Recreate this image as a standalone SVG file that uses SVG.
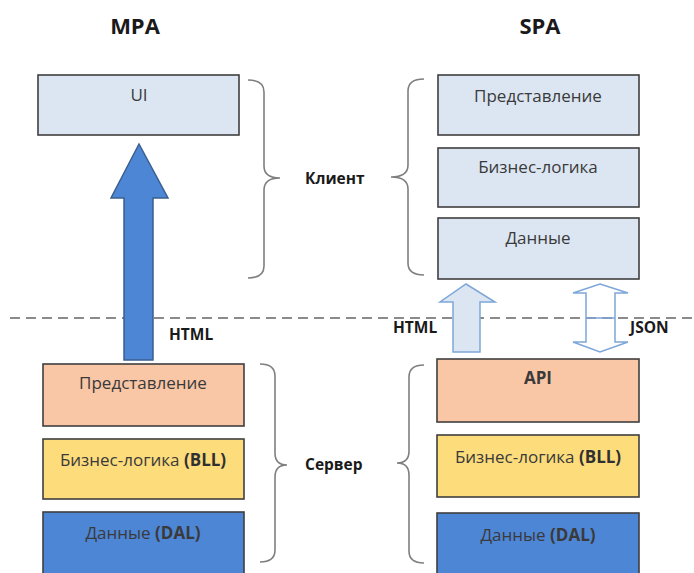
<svg xmlns="http://www.w3.org/2000/svg" width="694" height="573" viewBox="0 0 694 573">
<defs>
<style>
.box{stroke:#3f3f3f;stroke-width:1.6}
.lt{fill:#dce6f2}
.pe{fill:#f9c6a6}
.ye{fill:#fddc7c}
.bl{fill:#4e86d6}
.t{font-family:"Open Sans","Noto Sans","Liberation Sans",sans-serif;font-size:17px;fill:#3a3a3a;text-anchor:middle}
.lbl{font-family:"Open Sans","Noto Sans","Liberation Sans",sans-serif;font-size:15.5px;font-weight:bold;fill:#1a1a1a}
.title{font-family:"Open Sans","Noto Sans","Liberation Sans",sans-serif;font-size:22px;font-weight:bold;fill:#1a1a1a;text-anchor:middle}
.brace{fill:none;stroke:#7f7f7f;stroke-width:1.6}
</style>
</defs>
<rect width="694" height="573" fill="#ffffff"/>
<text class="title" x="135" y="34">MPA</text>
<text class="title" x="540" y="34">SPA</text>

<g id="connectors">
<line x1="10" y1="318" x2="694" y2="318" stroke="#8a8a8a" stroke-width="2" stroke-dasharray="10,6"/>
<path id="mpa-html-arrow" d="M139,144 L168,198 L153,198 L153,360 L124,360 L124,198 L111,198 Z" fill="#4e86d6" stroke="#3a5f8f" stroke-width="1.5"/>
<path id="spa-html-arrow" d="M466,284 L495,302 L480,302 L480,352 L453,352 L453,302 L440,302 Z" fill="#dce6f2" stroke="#7ea6d8" stroke-width="1.5"/>
<path id="spa-json-arrow" d="M600,284 L628,293 L615,293 L615,342 L628,342 L600,352 L573,342 L586,342 L586,293 L573,293 Z" fill="none" stroke="#7ea6d8" stroke-width="1.5"/>
<line x1="586" y1="318" x2="615" y2="318" stroke="#7ea6d8" stroke-width="1.5"/>
<text class="lbl" x="169" y="340">HTML</text>
<text class="lbl" x="393" y="333">HTML</text>
<text class="lbl" x="630" y="333">JSON</text>
</g>

<g id="mpa-ui"><rect class="box lt" x="38" y="75" width="201" height="60"/><text class="t" x="139" y="101">UI</text></g>
<g id="mpa-pres"><rect class="box pe" x="43" y="364" width="201" height="62"/><text class="t" x="143" y="389">Представление</text></g>
<g id="mpa-bll"><rect class="box ye" x="43" y="439" width="201" height="60"/><text class="t" x="143" y="466">Бизнес-логика <tspan font-weight="bold" fill="#303030">(BLL)</tspan></text></g>
<g id="mpa-dal"><rect class="box bl" x="43" y="512" width="201" height="70"/><text class="t" x="143" y="539" fill="#1f2f4a">Данные <tspan font-weight="bold">(DAL)</tspan></text></g>

<g id="spa-pres"><rect class="box lt" x="438" y="75" width="201" height="60"/><text class="t" x="538" y="102">Представление</text></g>
<g id="spa-bl"><rect class="box lt" x="438" y="148" width="201" height="59"/><text class="t" x="538" y="173">Бизнес-логика</text></g>
<g id="spa-data"><rect class="box lt" x="438" y="218" width="201" height="61"/><text class="t" x="538" y="244">Данные</text></g>
<g id="spa-api"><rect class="box pe" x="437" y="359" width="202" height="63"/><text class="t" x="538" y="384" font-weight="bold" fill="#303030">API</text></g>
<g id="spa-bll"><rect class="box ye" x="437" y="435" width="202" height="62"/><text class="t" x="538" y="463">Бизнес-логика <tspan font-weight="bold" fill="#303030">(BLL)</tspan></text></g>
<g id="spa-dal"><rect class="box bl" x="437" y="513" width="202" height="70"/><text class="t" x="538" y="541" fill="#1f2f4a">Данные <tspan font-weight="bold">(DAL)</tspan></text></g>

<g id="client-brace-left">
<path class="brace" d="M248,80 Q264,80 264,92 L264,166 Q264,178 280,178 Q264,178 264,190 L264,266 Q264,278 248,278"/>
</g>
<g id="server-brace-left">
<path class="brace" d="M260,364 Q275,364 275,376 L275,453 Q275,465 287,465 Q275,465 275,477 L275,550 Q275,562 260,562"/>
</g>
<g id="client-brace-right">
<path class="brace" d="M424,79 Q408,79 408,91 L408,165 Q408,177 391,177 Q408,177 408,189 L408,263 Q408,275 424,275"/>
</g>
<g id="server-brace-right">
<path class="brace" d="M424,365 Q409,365 409,377 L409,451 Q409,463 397,463 Q409,463 409,475 L409,551 Q409,563 424,563"/>
</g>
<g id="label-client"><text class="lbl" x="305" y="184">Клиент</text></g>
<g id="label-server"><text class="lbl" x="305" y="470">Сервер</text></g>
</svg>
